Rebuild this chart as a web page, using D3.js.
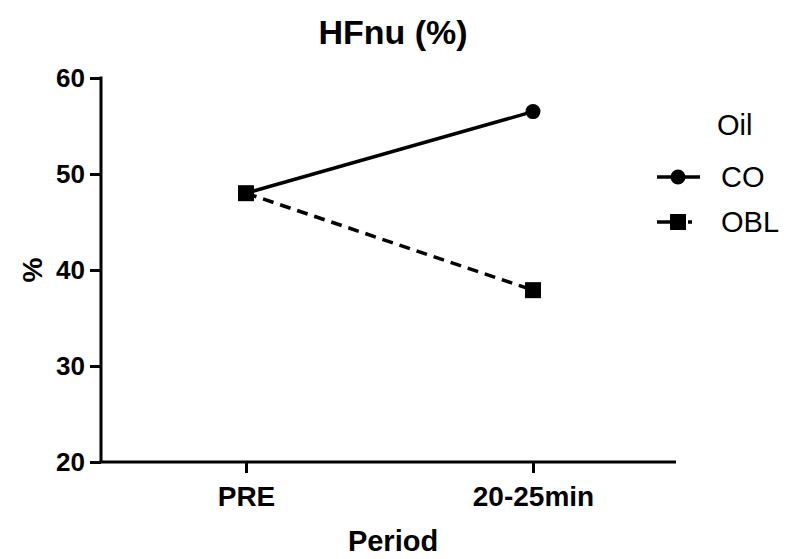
<!DOCTYPE html>
<html>
<head>
<meta charset="utf-8">
<script src="https://cdn.jsdelivr.net/npm/d3@7"></script>
<style>
  body { margin: 0; background: #fff; }
  svg { display: block; font-family: "Liberation Sans", Arial, Helvetica, sans-serif; }
</style>
</head>
<body>
<svg id="chart" width="786" height="559"></svg>
<script>
// Periods on the x axis
const periods = ["PRE", "20-25min"];
// HFnu values per oil group
const coValues = [48.0, 56.5];
const oblValues = [48.0, 37.9];
// y axis ticks
const yTicks = [20, 30, 40, 50, 60];
const seriesNames = ["CO", "OBL"];

const svg = d3.select("#chart");

const x = d3.scalePoint().domain(periods).range([246, 533]);
const y = d3.scaleLinear().domain([20, 60]).range([462, 78]);

const series = [
  { name: seriesNames[0], values: coValues, dash: null, shape: "circle" },
  { name: seriesNames[1], values: oblValues, dash: "11,7", shape: "square" }
];

// Title
svg.append("text")
  .attr("x", 393).attr("y", 44)
  .attr("text-anchor", "middle")
  .attr("font-size", 34).attr("font-weight", "bold")
  .text("HFnu (%)");

// Y axis
const yAxis = svg.append("g")
  .attr("transform", "translate(101,0)")
  .call(d3.axisLeft(y).tickValues(yTicks).tickSize(11).tickPadding(5).tickFormat(d3.format("d")));
yAxis.select(".domain").attr("stroke", "#000").attr("stroke-width", 3)
  .attr("d", `M0,${y(60) - 1.5}V${y(20)}`);
yAxis.selectAll(".tick line").attr("stroke", "#000").attr("stroke-width", 3);
yAxis.selectAll(".tick text").attr("font-size", 26).attr("font-weight", "bold")
  .attr("fill", "#000").attr("font-family", "Liberation Sans, Arial, sans-serif");

// X axis
const xAxis = svg.append("g")
  .attr("transform", `translate(0,${y(20)})`)
  .call(d3.axisBottom(x).tickSize(11).tickPadding(13));
xAxis.select(".domain").attr("stroke", "#000").attr("stroke-width", 3)
  .attr("d", "M99.5,0H676");
xAxis.selectAll(".tick line").attr("stroke", "#000").attr("stroke-width", 3);
xAxis.selectAll(".tick text").attr("font-size", 28).attr("font-weight", "bold")
  .attr("fill", "#000").attr("font-family", "Liberation Sans, Arial, sans-serif");

// Axis titles
svg.append("text")
  .attr("transform", "translate(42,270) rotate(-90)")
  .attr("text-anchor", "middle")
  .attr("font-size", 28).attr("font-weight", "bold")
  .text("%");
svg.append("text")
  .attr("x", 393).attr("y", 551)
  .attr("text-anchor", "middle")
  .attr("font-size", 29).attr("font-weight", "bold")
  .text("Period");

// Lines
const line = d3.line().x((d, i) => x(periods[i])).y(d => y(d));
series.forEach(s => {
  svg.append("path")
    .datum(s.values)
    .attr("d", line)
    .attr("fill", "none")
    .attr("stroke", "#000")
    .attr("stroke-width", 3.5)
    .attr("stroke-dasharray", s.dash);
});

// Markers
function drawMarker(g, shape, cx, cy) {
  if (shape === "circle") {
    g.append("circle").attr("cx", cx).attr("cy", cy).attr("r", 7.5).attr("fill", "#000");
  } else {
    g.append("rect").attr("x", cx - 8).attr("y", cy - 8)
      .attr("width", 16).attr("height", 16).attr("fill", "#000");
  }
}
series.forEach(s => {
  s.values.forEach((v, i) => drawMarker(svg, s.shape, x(periods[i]), y(v)));
});

// Legend
const legend = svg.append("g");
legend.append("text")
  .attr("x", 717).attr("y", 135)
  .attr("font-size", 29)
  .text("Oil");
series.forEach((s, i) => {
  const ly = 177 + i * 45;
  if (s.dash) {
    legend.append("line").attr("x1", 657).attr("x2", 678).attr("y1", ly).attr("y2", ly)
      .attr("stroke", "#000").attr("stroke-width", 3.5);
    legend.append("line").attr("x1", 678).attr("x2", 701).attr("y1", ly).attr("y2", ly)
      .attr("stroke", "#000").attr("stroke-width", 3.5).attr("stroke-dasharray", "0,10,4,20");
  } else {
    legend.append("line").attr("x1", 657).attr("x2", 700).attr("y1", ly).attr("y2", ly)
      .attr("stroke", "#000").attr("stroke-width", 3.5);
  }
  drawMarker(legend, s.shape, 678, ly);
  legend.append("text")
    .attr("x", 721).attr("y", ly + 10)
    .attr("font-size", 29)
    .text(s.name);
});
</script>
</body>
</html>
